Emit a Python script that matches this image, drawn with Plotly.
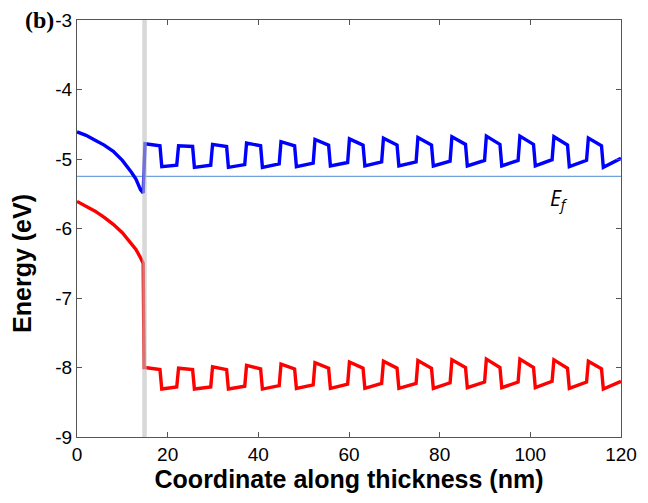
import plotly.graph_objects as go

# ---- data ----
left_x = [0, 2, 4, 6, 8, 10, 12, 13, 14, 14.6]
blue_left_y = [-4.61, -4.66, -4.73, -4.80, -4.89, -5.02, -5.19, -5.29, -5.44, -5.49]
red_left_y = [-5.61, -5.68, -5.75, -5.84, -5.94, -6.06, -6.21, -6.30, -6.42, -6.50]

wave_x = [15.0, 18.3, 18.7,
          22.0, 22.4, 25.5, 25.9,
          29.5, 29.9, 33.0, 33.4,
          37.0, 37.4, 40.5, 40.9,
          44.6, 45.0, 48.0, 48.4,
          52.1, 52.5, 55.5, 55.9,
          59.7, 60.1, 63.1, 63.5,
          67.2, 67.6, 70.6, 71.0,
          74.8, 75.2, 78.2, 78.6,
          82.3, 82.7, 85.7, 86.1,
          89.9, 90.3, 93.3, 93.7,
          97.3, 97.7, 100.7, 101.1,
          104.8, 105.2, 108.2, 108.6,
          112.4, 112.8, 115.7, 116.1,
          120.0]

blue_wave_y = [-4.78, -4.81, -5.11,
               -5.09, -4.81, -4.82, -5.12,
               -5.09, -4.79, -4.82, -5.12,
               -5.08, -4.77, -4.81, -5.12,
               -5.07, -4.75, -4.81, -5.11,
               -5.06, -4.72, -4.80, -5.10,
               -5.05, -4.71, -4.80, -5.10,
               -5.04, -4.70, -4.80, -5.10,
               -5.04, -4.69, -4.80, -5.10,
               -5.03, -4.68, -4.79, -5.10,
               -5.02, -4.67, -4.79, -5.10,
               -5.02, -4.67, -4.79, -5.10,
               -5.01, -4.68, -4.80, -5.11,
               -5.02, -4.70, -4.81, -5.12,
               -4.99]

red_drop_x = [14.8]
red_drop_y = [-8.00]
red_wave_y = [-8.00, -8.03, -8.31,
              -8.28, -8.01, -8.03, -8.31,
              -8.28, -7.99, -8.03, -8.31,
              -8.27, -7.97, -8.02, -8.31,
              -8.26, -7.95, -8.02, -8.30,
              -8.25, -7.93, -8.01, -8.30,
              -8.24, -7.92, -8.01, -8.30,
              -8.23, -7.91, -8.01, -8.30,
              -8.23, -7.90, -8.01, -8.30,
              -8.22, -7.89, -8.00, -8.29,
              -8.21, -7.88, -8.00, -8.29,
              -8.21, -7.88, -8.00, -8.29,
              -8.20, -7.89, -8.01, -8.30,
              -8.21, -7.91, -8.02, -8.31,
              -8.20]

fermi_x = [0, 120]
fermi_y = [-5.25, -5.25]
interface_band = [14.4, 15.4]

x_ticks = [0, 20, 40, 60, 80, 100, 120]
x_tick_text = ["0", "20", "40", "60", "80", "100", "120"]
y_ticks = [-9, -8, -7, -6, -5, -4, -3]
y_tick_text = ["-9", "-8", "-7", "-6", "-5", "-4", "-3"]

blue_x = left_x + wave_x
blue_y = blue_left_y + blue_wave_y
red_x = left_x + red_drop_x + wave_x
red_y = red_left_y + red_drop_y + red_wave_y

fig = go.Figure()
fig.add_trace(go.Scatter(x=fermi_x, y=fermi_y, mode="lines",
                         line=dict(color="#6fa3dc", width=1.2), showlegend=False))
fig.add_trace(go.Scatter(x=blue_x, y=blue_y, mode="lines",
                         line=dict(color="#0000ff", width=3.4), showlegend=False))
fig.add_trace(go.Scatter(x=red_x, y=red_y, mode="lines",
                         line=dict(color="#ff0000", width=3.4), showlegend=False))

fig.add_shape(type="rect", xref="x", yref="paper",
              x0=interface_band[0], x1=interface_band[1], y0=0, y1=1,
              fillcolor="rgba(190,190,190,0.6)", line=dict(width=0), layer="above")

fig.add_annotation(x=104.0, y=-5.57, xref="x", yref="y",
                   text="<i>E<sub>f</sub></i>", showarrow=False,
                   xanchor="left", yanchor="middle",
                   font=dict(family="Open Sans", size=21, color="black"))

fig.add_annotation(x=0, y=1, xref="paper", yref="paper", xanchor="right", yanchor="middle",
                   xshift=-21, text="<b>(b)</b>", showarrow=False,
                   font=dict(family="Liberation Serif", size=24, color="black"))

# y-axis title (placed as rotated text, centred where the reference shows it)
fig.add_annotation(x=0, y=0.415, xref="paper", yref="paper", xanchor="center", yanchor="middle",
                   xshift=-55, textangle=-90, text="<b>Energy (eV)</b>", showarrow=False,
                   font=dict(family="Liberation Sans", size=25, color="black"))

axis_common = dict(showgrid=False, zeroline=False, showline=True, linecolor="#555555",
                   linewidth=1, mirror="ticks", ticks="inside", ticklen=5,
                   tickcolor="#555555", automargin=False,
                   tickfont=dict(family="Liberation Sans", size=19, color="black"))

fig.update_layout(
    width=648, height=503,
    margin=dict(l=77, r=27, t=20, b=66),
    paper_bgcolor="white", plot_bgcolor="white",
    xaxis=dict(range=[0, 120], tickvals=x_ticks, ticktext=x_tick_text,
               title=dict(text="<b>Coordinate along thickness (nm)</b>", standoff=6,
                          font=dict(family="Liberation Sans", size=25, color="black")),
               **axis_common),
    yaxis=dict(range=[-9, -3], tickvals=y_ticks, ticktext=y_tick_text,
               **axis_common),
)

fig.write_html("out.html", config={"displayModeBar": False},
               post_script="document.body.style.margin='0';")
